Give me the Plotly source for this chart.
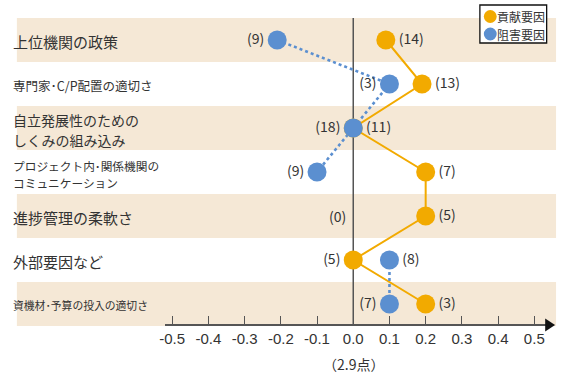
import plotly.graph_objects as go

# ---------------- data ----------------
categories = [
    "上位機関の政策",
    "専門家･C/P配置の適切さ",
    "自立発展性のための\nしくみの組み込み",
    "プロジェクト内･関係機関の\nコミュニケーション",
    "進捗管理の柔軟さ",
    "外部要因など",
    "資機材･予算の投入の適切さ",
]
contrib_vals = [0.09, 0.19, 0.0, 0.20, 0.20, 0.0, 0.20]
contrib_counts = [14, 13, 11, 7, 5, 5, 3]
hinder_vals = [-0.21, 0.10, 0.0, -0.10, None, 0.10, 0.10]
hinder_counts = [9, 3, 18, 9, 0, 8, 7]
series_names = ["貢献要因", "阻害要因"]
x_ticks = [-0.5, -0.4, -0.3, -0.2, -0.1, 0.0, 0.1, 0.2, 0.3, 0.4, 0.5]
x_ticklabels = ["-0.5", "-0.4", "-0.3", "-0.2", "-0.1", "0.0", "0.1", "0.2", "0.3", "0.4", "0.5"]
axis_note = "（2.9点）"

# ---------------- style ----------------
W, H = 561, 373
ORANGE = "#F2AA00"
BLUE = "#5B8FD0"
BAND = "#F5E8D6"
TXT = "#333333"
AXC = "#555555"
JP = "Noto Sans CJK JP"
LAT = "Liberation Sans, Arial"

X0PX, XUNIT = 351.0, 366.0          # px of 0.0, px per 1.0
ROW0PX, ROWPX = 40.0, 44.0          # px of first row centre, row height
AX_L, AX_R, AX_Y = 161.0, 546.0, 325.0
LABEL_X = 6.0

cat_sizes = [15, 12.5, 14, 11.7, 15, 15, 10.8]
contrib_textpos = ["middle right"] * 5 + ["middle left", "middle right"]
hinder_textpos = ["middle left"] * 4 + [None, "middle right", "middle left"]

rows = list(range(len(categories)))

def px2v(px):
    return (px - X0PX) / XUNIT

fig = go.Figure()

# lines
fig.add_trace(go.Scatter(x=contrib_vals, y=rows, mode="lines",
                         line=dict(color=ORANGE, width=2), showlegend=False, hoverinfo="skip"))
fig.add_trace(go.Scatter(x=hinder_vals, y=rows, mode="lines", connectgaps=False,
                         line=dict(color=BLUE, width=2.6, dash="dot"), showlegend=False, hoverinfo="skip"))

# markers + labels
fig.add_trace(go.Scatter(
    x=contrib_vals, y=rows, mode="markers+text", name=series_names[0],
    marker=dict(color=ORANGE, size=19),
    text=[f"({c})" for c in contrib_counts], textposition=contrib_textpos,
    textfont=dict(family=JP, size=14, color=TXT), showlegend=False))

hx = [v for v in hinder_vals if v is not None]
hy = [r for r, v in zip(rows, hinder_vals) if v is not None]
ht = [f"({c})" for c, v in zip(hinder_counts, hinder_vals) if v is not None]
hp = [p for p, v in zip(hinder_textpos, hinder_vals) if v is not None]
fig.add_trace(go.Scatter(
    x=hx, y=hy, mode="markers+text", name=series_names[1],
    marker=dict(color=BLUE, size=19),
    text=ht, textposition=hp,
    textfont=dict(family=JP, size=14, color=TXT), showlegend=False))

shapes = []
annotations = []

# bands
for i in rows:
    if i % 2 == 0:
        shapes.append(dict(type="rect", xref="paper", yref="y", x0=11 / W, x1=556 / W,
                           y0=i - 0.5, y1=i + 0.5, fillcolor=BAND, line=dict(width=0), layer="below"))
# zero line
shapes.append(dict(type="line", xref="x", yref="y", x0=0, x1=0, y0=-0.5, y1=len(rows) - 0.5,
                   line=dict(color=AXC, width=1.5), layer="below"))
# arrow head
def P(x, y):
    return f"{x / W:.5f},{1 - y / H:.5f}"
shapes.append(dict(type="path", xref="paper", yref="paper",
                   path=f"M {P(545, 318.5)} L {P(555, 325)} L {P(545, 331.5)} Z",
                   fillcolor="#111111", line=dict(width=0)))

# category labels (one annotation per text line)
for i, (cat, fs) in enumerate(zip(categories, cat_sizes)):
    lines = cat.split("\n")
    n = len(lines)
    step = fs * 1.47
    for k, ln in enumerate(lines):
        off = (k - (n - 1) / 2) * step
        annotations.append(dict(xref="paper", yref="y", x=LABEL_X / W, y=i,
                                yshift=-off - (2 if n > 1 else 1),
                                text=ln, showarrow=False, borderpad=0,
                                xanchor="left", yanchor="middle", align="left",
                                font=dict(family=JP, size=fs, color=TXT)))

# zero-count label where no value
for i, (v, c) in enumerate(zip(hinder_vals, hinder_counts)):
    if v is None:
        annotations.append(dict(xref="x", yref="y", x=0, y=i, xshift=-5, text=f"({c})",
                                showarrow=False, xanchor="right", yanchor="middle",
                                font=dict(family=JP, size=14, color=TXT)))

# axis note
annotations.append(dict(xref="x", yref="paper", x=0, y=1 - 364 / H, text=axis_note,
                        showarrow=False, xanchor="center", yanchor="middle",
                        font=dict(family=JP, size=14, color=TXT)))

# custom legend
shapes.append(dict(type="rect", xref="paper", yref="paper",
                   x0=479 / W, x1=546.5 / W, y0=1 - 43 / H, y1=1 - 5 / H,
                   fillcolor="white", line=dict(color="#111111", width=1.3)))
for k, (nm, col) in enumerate(zip(series_names, [ORANGE, BLUE])):
    cy = 16.5 + 17.5 * k
    cx = 489.5
    r = 6.5
    shapes.append(dict(type="circle", xref="paper", yref="paper",
                       x0=(cx - r) / W, x1=(cx + r) / W, y0=1 - (cy + r) / H, y1=1 - (cy - r) / H,
                       fillcolor=col, line=dict(width=0)))
    annotations.append(dict(xref="paper", yref="paper", x=494 / W, y=1 - cy / H, text=nm,
                            showarrow=False, xanchor="left", yanchor="middle",
                            font=dict(family=JP, size=12, color=TXT)))

fig.update_layout(
    width=W, height=H, margin=dict(l=0, r=0, t=0, b=0),
    paper_bgcolor="white", plot_bgcolor="rgba(0,0,0,0)",
    showlegend=False,
    shapes=shapes, annotations=annotations,
    xaxis=dict(domain=[AX_L / W, AX_R / W], range=[px2v(AX_L), px2v(AX_R)],
               anchor="free", position=1 - AX_Y / H,
               showline=True, linecolor=AXC, linewidth=1.5,
               ticks="inside", ticklen=8, tickwidth=1.3, tickcolor=AXC,
               tickvals=x_ticks, ticktext=x_ticklabels,
               tickfont=dict(family=LAT, size=15, color=TXT),
               showgrid=False, zeroline=False, fixedrange=True),
    yaxis=dict(domain=[0, 1], range=[(H - ROW0PX) / ROWPX, -ROW0PX / ROWPX],
               visible=False, showgrid=False, zeroline=False, fixedrange=True),
)

fig.write_html("out.html")
